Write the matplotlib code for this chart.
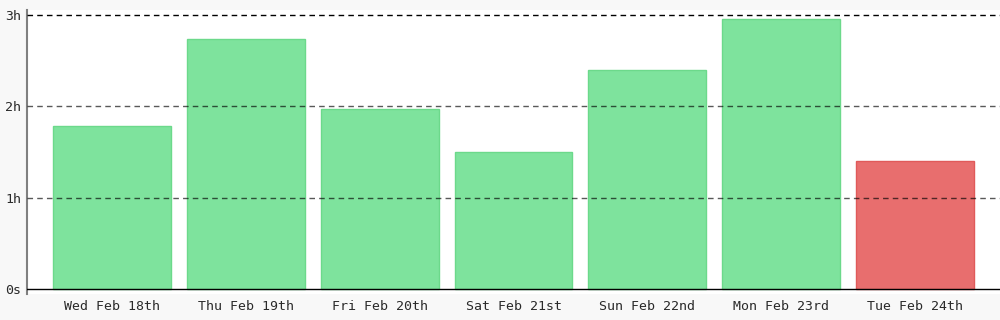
import matplotlib
matplotlib.use("Agg")
import matplotlib.pyplot as plt

days = ["Wed Feb 18th", "Thu Feb 19th", "Fri Feb 20th", "Sat Feb 21st",
        "Sun Feb 22nd", "Mon Feb 23rd", "Tue Feb 24th"]
hours = [1.785, 2.737, 1.971, 1.50, 2.398, 2.958, 1.40]
today = [False, False, False, False, False, False, True]
ytick_vals = [0, 1, 2, 3]
ytick_labels = ["0s", "1h", "2h", "3h"]

plt.rcParams["font.family"] = "DejaVu Sans Mono"

fig = plt.figure(figsize=(10, 3.2), dpi=100)
fig.patch.set_facecolor("#f8f8f8")
ax = fig.add_axes([0.027, 26 / 320, 0.973, 284 / 320])
ax.set_facecolor("white")

fills = ["#e86e6e" if t else "#7ee39d" for t in today]
edges = ["#e05a5a" if t else "#6cd98b" for t in today]
x = list(range(len(days)))
ax.bar(x, hours, width=0.88, color=fills, edgecolor=edges, linewidth=1, zorder=2)

ax.set_xlim(-0.636, 6.636)
ax.set_ylim(-0.055, 3.055)

# dashed guide lines, drawn over the bars
for v in ytick_vals[1:]:
    if v == 3:
        ax.axhline(v, color="black", lw=1, ls=(0, (4, 3)), zorder=3)
    else:
        ax.axhline(v, color="black", alpha=0.65, lw=1, ls=(0, (4, 3)), zorder=3)
ax.axhline(0, color="black", lw=1, zorder=3)

ax.set_yticks(ytick_vals)
ax.set_yticklabels(ytick_labels, fontsize=9.5, color="#2a2a2a")
ax.set_xticks(x)
ax.set_xticklabels(days, fontsize=9.5, color="#2a2a2a")
ax.tick_params(axis="x", length=0, pad=4.5)
ax.tick_params(axis="y", length=0, pad=4)

for s in ["top", "right", "bottom"]:
    ax.spines[s].set_visible(False)
ax.spines["left"].set_color("#808080")
ax.spines["left"].set_linewidth(1.5)

plt.savefig("out.png", dpi=100, facecolor=fig.get_facecolor())
